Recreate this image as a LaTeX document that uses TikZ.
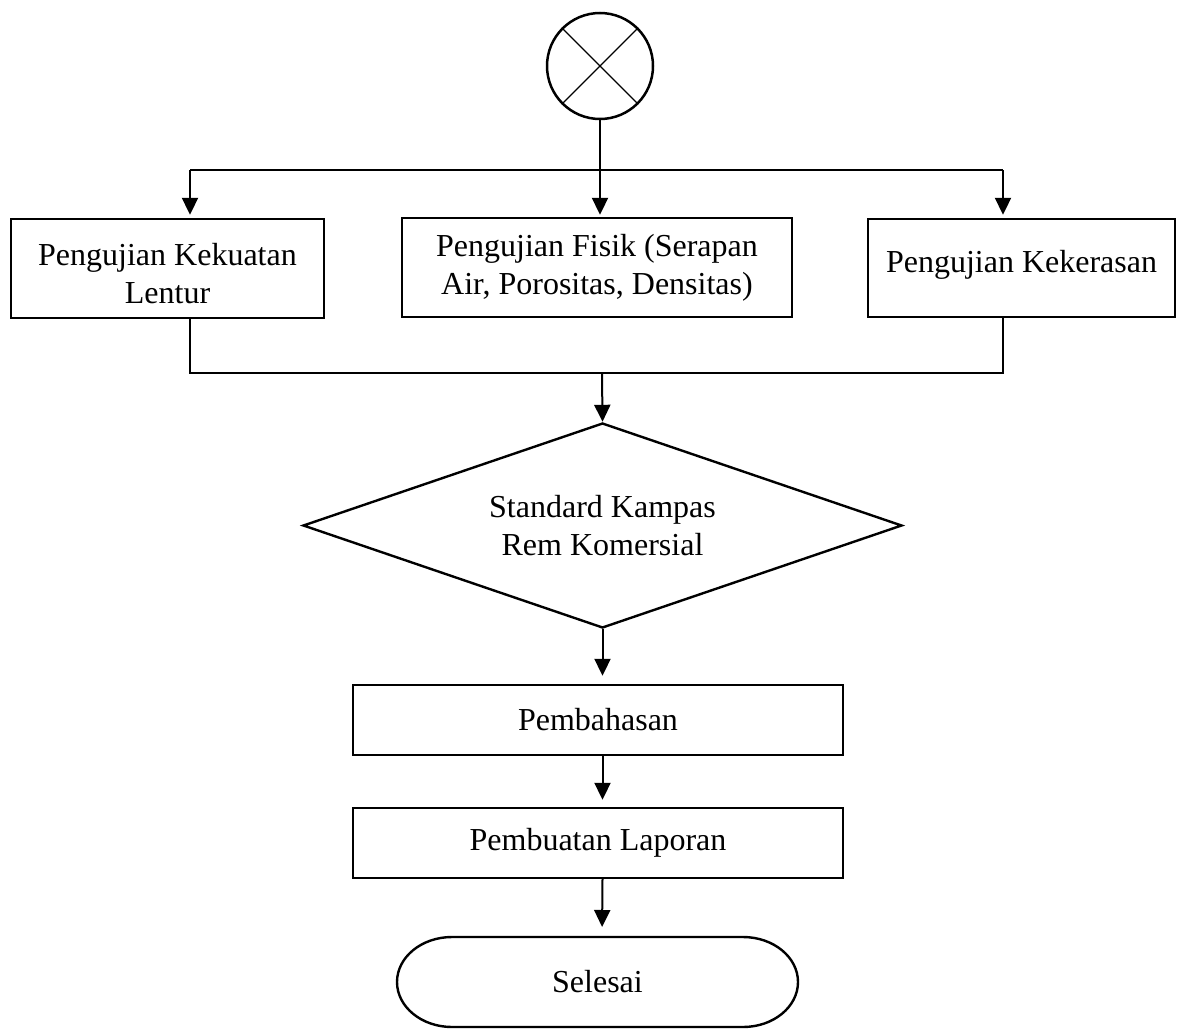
\documentclass[tikz,border=0pt]{standalone}
\usepackage{fontspec}
\setmainfont{Liberation Serif}
\usetikzlibrary{arrows.meta,shapes.geometric}
\begin{document}
\begin{tikzpicture}[x=1pt,y=-1pt,
  every node/.style={font=\fontsize{32}{38}\selectfont},
  box/.style={draw, line width=2.4pt, inner sep=0pt, align=center},
  thinline/.style={line width=1.2pt},
  arr/.style={line width=2pt, -{Triangle[width=16pt,length=17pt]}},
]
\useasboundingbox (0,0) rectangle (1183,1028);
% start symbol
\node[circle, draw, line width=2.5pt, minimum size=106pt, inner sep=0pt] (circ) at (600,66) {};
\draw[line width=1.3pt] (circ.north west) -- (circ.south east);
\draw[line width=1.3pt] (circ.north east) -- (circ.south west);
% test boxes
\node[box, minimum width=313pt, minimum height=99pt] (b1) at (167.5,268.5) {\rule{0pt}{32pt}Pengujian Kekuatan\\Lentur};
\node[box, minimum width=390pt, minimum height=99pt] (b2) at (597,267.5) {Pengujian Fisik (Serapan\\Air, Porositas, Densitas)};
\node[box, minimum width=307pt, minimum height=98pt, text depth=14pt] (b3) at (1021.5,268) {Pengujian Kekerasan};
% decision
\node[diamond, draw, line width=2.4pt, minimum width=599pt, minimum height=205pt, inner sep=0pt] (dia) at (602.5,525.5) {};
\node[align=center] (diatext) at (dia.center) {Standard Kampas\\Rem Komersial};
% process boxes
\node[box, minimum width=490pt, minimum height=70pt] (bah) at (598,720) {Pembahasan};
\node[box, minimum width=490pt, minimum height=70pt] (lap) at (598,843) {Pembuatan Laporan};
% terminator
\node (endtext) at (597.5,982) {Selesai};
\draw[line width=2.4pt] (452,937) -- (743,937)
  arc[start angle=-90, end angle=90, x radius=55, y radius=45]
  -- (452,1027)
  arc[start angle=90, end angle=270, x radius=55, y radius=45] -- cycle;
\coordinate (endtop) at (602,937);
% junction coordinates
\coordinate (split) at (600,170);
\coordinate (j1) at (190,170);
\coordinate (j3) at (1003,170);
\coordinate (m1) at (190,373);
\coordinate (m2) at (602,373);
\coordinate (m3) at (1003,373);
% connectors
\draw[thinline] (circ.south) -- (split);
\draw[thinline] (j1) -- (j3);
\draw[arr, shorten >=3pt] (j1) -- (j1 |- b1.north);
\draw[arr, shorten >=2pt] (split) -- (split |- b2.north);
\draw[arr, shorten >=3pt] (j3) -- (j3 |- b3.north);
\draw[thinline] (m1 |- b1.south) -- (m1) -- (m3) -- (m3 |- b3.south);
\draw[arr] (m2) -- (dia.north);
\draw[arr, shorten >=8pt] (dia.south) -- (dia.south |- bah.north);
\draw[arr, shorten >=7pt] (dia.south |- bah.south) -- (dia.south |- lap.north);
\draw[arr, shorten >=10pt] (dia.south |- lap.south) -- (endtop);
\end{tikzpicture}
\end{document}
